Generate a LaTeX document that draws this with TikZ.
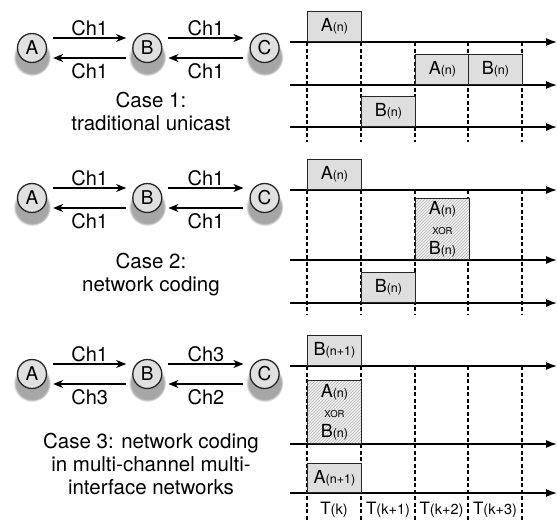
\documentclass[tikz,border=0pt]{standalone}
\usepackage{fontspec}
\setmainfont{TeX Gyre Heros}
\usetikzlibrary{positioning,shadows,patterns,arrows.meta,calc}
\definecolor{boxgray}{gray}{0.87}
\definecolor{hatchgray}{gray}{0.72}
\newcommand{\pkt}[2]{{\fontsize{18}{18}\selectfont #1}{\fontsize{12.5}{12.5}\selectfont #2}}
\newcommand{\slotlabel}[1]{{\fontsize{17}{17}\selectfont T}{\fontsize{14.5}{14.5}\selectfont(#1)}}
\newcommand{\xorlabel}[2]{\pkt{#1}{(n)}\\{\fontsize{9.5}{9.5}\selectfont XOR}\\\pkt{#2}{(n)}}

\begin{document}
\begin{tikzpicture}[x=1pt,y=-1pt]
\useasboundingbox (0,0) rectangle (557,522);

\tikzstyle{station}=[circle,draw=black!85,line width=1.3pt,fill=black!12,minimum size=29pt,inner sep=0pt,font=\fontsize{19}{19}\selectfont,
  circular drop shadow={shadow xshift=0pt,shadow yshift=-7pt,shadow scale=1.3,opacity=0.7}]
\tikzstyle{chan}=[line width=1.1pt,-{Stealth[length=10pt,width=8pt,inset=3pt]},shorten >=6pt,shorten <=6pt]
\tikzstyle{chlabel}=[font=\fontsize{20}{20}\selectfont,inner sep=2pt]
\tikzstyle{annot}=[align=center,anchor=north,font=\fontsize{20.5}{23}\selectfont]
\tikzstyle{timeline}=[line width=1.4pt,-{Latex[length=11pt,width=8pt]}]
\tikzstyle{tick}=[line width=1.1pt,dash pattern=on 4pt off 2.5pt]
\tikzstyle{pkt}=[draw=black!85,line width=0.9pt,fill=boxgray,minimum width=54pt,minimum height=30pt,inner sep=0pt,anchor=south west]
\tikzstyle{xorpkt}=[pkt,fill=none,preaction={fill=black!6},pattern=north east lines,pattern color=hatchgray,align=center,font=\fontsize{18}{20}\selectfont]
\tikzstyle{slot}=[inner sep=0pt]

% time axis positions
\coordinate (x0) at (290,0);
\coordinate (xe) at (557,0);
\coordinate (t1) at (307,0);
\coordinate (t2) at (361,0);
\coordinate (t3) at (415,0);
\coordinate (t4) at (468,0);
\coordinate (t5) at (522,0);

% ---- case 1 ----
\node[station] (a1) at (32,48) {A};
\node[station, right=85pt of a1] (b1) {B};
\node[station, right=87pt of b1] (c1) {C};
\draw[chan] ([yshift=10pt]a1.east) -- ([yshift=10pt]b1.west) node[chlabel,midway,above] {Ch1};
\draw[chan] ([yshift=-10pt]b1.west) -- ([yshift=-10pt]a1.east) node[chlabel,midway,below=3pt] {Ch1};
\draw[chan] ([yshift=10pt]b1.east) -- ([yshift=10pt]c1.west) node[chlabel,midway,above] {Ch1};
\draw[chan] ([yshift=-10pt]c1.west) -- ([yshift=-10pt]b1.east) node[chlabel,midway,below=3pt] {Ch1};
\node[annot] (case1) at (151,89) {Case 1:\\traditional unicast};

\coordinate (c1l1) at (0,42);
\coordinate (c1l2) at (0,85);
\coordinate (c1l3) at (0,127);
\coordinate (c1end) at (0,142);
\foreach \t in {t1,t2,t3,t4,t5}
  \draw[tick] (c1l1 -| \t) -- (c1end -| \t);
\draw[timeline] (c1l1 -| x0) -- (c1l1 -| xe);
\draw[timeline] (c1l2 -| x0) -- (c1l2 -| xe);
\draw[timeline] (c1l3 -| x0) -- (c1l3 -| xe);
\node[pkt] (p1a) at (c1l1 -| t1) {\pkt{A}{(n)}};
\node[pkt] (p1b) at (c1l3 -| t2) {\pkt{B}{(n)}};
\node[pkt] (p1c) at (c1l2 -| t3) {\pkt{A}{(n)}};
\node[pkt] (p1d) at (c1l2 -| t4) {\pkt{B}{(n)}};

% ---- case 2 ----
\node[station] (a2) at (32,198) {A};
\node[station, right=85pt of a2] (b2) {B};
\node[station, right=87pt of b2] (c2) {C};
\draw[chan] ([yshift=10pt]a2.east) -- ([yshift=10pt]b2.west) node[chlabel,midway,above] {Ch1};
\draw[chan] ([yshift=-10pt]b2.west) -- ([yshift=-10pt]a2.east) node[chlabel,midway,below=3pt] {Ch1};
\draw[chan] ([yshift=10pt]b2.east) -- ([yshift=10pt]c2.west) node[chlabel,midway,above] {Ch1};
\draw[chan] ([yshift=-10pt]c2.west) -- ([yshift=-10pt]b2.east) node[chlabel,midway,below=3pt] {Ch1};
\node[annot] (case2) at (151,250) {Case 2:\\network coding};

\coordinate (c2l1) at (0,190);
\coordinate (c2l2) at (0,260);
\coordinate (c2l3) at (0,303);
\coordinate (c2end) at (0,315);
\foreach \t in {t1,t2,t3,t4,t5}
  \draw[tick] (c2l1 -| \t) -- (c2end -| \t);
\draw[timeline] (c2l1 -| x0) -- (c2l1 -| xe);
\draw[timeline] (c2l2 -| x0) -- (c2l2 -| xe);
\draw[timeline] (c2l3 -| x0) -- (c2l3 -| xe);
\node[pkt] (p2a) at (c2l1 -| t1) {\pkt{A}{(n)}};
\node[pkt] (p2b) at (c2l3 -| t2) {\pkt{B}{(n)}};
\node[xorpkt, minimum height=61pt] (p2c) at (c2l2 -| t3) {\xorlabel{A}{B}};

% ---- case 3 ----
\node[station] (a3) at (32,374) {A};
\node[station, right=85pt of a3] (b3) {B};
\node[station, right=87pt of b3] (c3) {C};
\draw[chan] ([yshift=10pt]a3.east) -- ([yshift=10pt]b3.west) node[chlabel,midway,above] {Ch1};
\draw[chan] ([yshift=-10pt]b3.west) -- ([yshift=-10pt]a3.east) node[chlabel,midway,below=3pt] {Ch3};
\draw[chan] ([yshift=10pt]b3.east) -- ([yshift=10pt]c3.west) node[chlabel,midway,above] {Ch3};
\draw[chan] ([yshift=-10pt]c3.west) -- ([yshift=-10pt]b3.east) node[chlabel,midway,below=3pt] {Ch2};
\node[annot] (case3) at (151,430) {Case 3: network coding\\in multi-channel multi-\\interface networks};

\coordinate (c3l1) at (0,366);
\coordinate (c3l2) at (0,444);
\coordinate (c3l3) at (0,493);
\coordinate (c3end) at (0,522);
\foreach \t in {t1,t2,t3,t4,t5}
  \draw[tick] (c3l1 -| \t) -- (c3end -| \t);
\draw[timeline] (c3l1 -| x0) -- (c3l1 -| xe);
\draw[timeline] (c3l2 -| x0) -- (c3l2 -| xe);
\draw[timeline] (c3l3 -| x0) -- (c3l3 -| xe);
\node[pkt] (p3a) at (c3l1 -| t1) {\pkt{B}{(n+1)}};
\node[xorpkt, minimum height=63pt] (p3b) at (c3l2 -| t1) {\xorlabel{A}{B}};
\node[pkt, minimum height=29pt] (p3c) at (c3l3 -| t1) {\pkt{A}{(n+1)}};

% slot names
\node[slot] (s1) at ($(t1)!0.5!(t2) + (0,510)$) {\slotlabel{k}};
\node[slot] (s2) at ($(t2)!0.5!(t3) + (0,510)$) {\slotlabel{k+1}};
\node[slot] (s3) at ($(t3)!0.5!(t4) + (0,510)$) {\slotlabel{k+2}};
\node[slot] (s4) at ($(t4)!0.5!(t5) + (0,510)$) {\slotlabel{k+3}};

\end{tikzpicture}
\end{document}
